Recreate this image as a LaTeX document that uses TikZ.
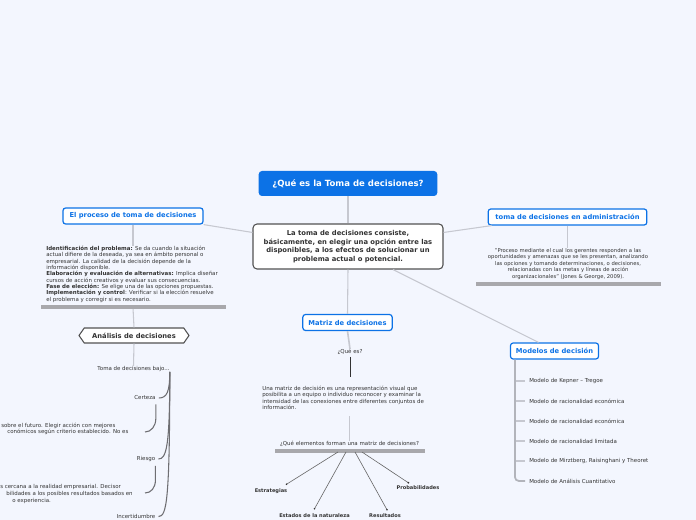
\documentclass[tikz,border=0pt]{standalone}
\usepackage{fontspec}
\setmainfont{DejaVu Sans}
\usepackage{xcolor}
\usetikzlibrary{shapes.symbols,calc}
\definecolor{bg}{HTML}{F3F6FE}
\definecolor{accent}{HTML}{0C72E6}
\definecolor{ink}{HTML}{333333}
\definecolor{wire}{HTML}{C6C8D0}
\definecolor{bar}{HTML}{A8A8AC}
\definecolor{branch}{HTML}{6E6E72}
\newcommand\fstitle{\fontsize{6.4}{8}\selectfont\bfseries}
\newcommand\fsmain{\fontsize{5.1}{6.4}\selectfont\bfseries}
\newcommand\fstopic{\fontsize{5.05}{6}\selectfont\bfseries}
\newcommand\fsnote{\fontsize{4.1}{4.75}\selectfont}
\newcommand\fscita{\fontsize{3.95}{4.85}\selectfont}
\newcommand\fslabel{\fontsize{3.8}{4.6}\selectfont\bfseries}
\newcommand\fsitem{\fontsize{4.1}{5}\selectfont}
\tikzset{
  topic/.style={draw=accent, line width=0.9pt, fill=white, rounded corners=2pt,
    text=accent, font=\fstopic, inner sep=0pt, minimum height=12pt},
  note/.style={text=ink, font=\fsnote, inner sep=0pt},
  item/.style={text=ink, font=\fsitem, inner sep=0pt, anchor=west},
  wire/.style={draw=wire, line width=0.8pt},
  branchline/.style={draw=branch, line width=0.8pt},
  spoke/.style={draw=ink!75, line width=0.45pt},
  barline/.style={draw=bar, line width=2.3pt},
}
\begin{document}
\begin{tikzpicture}[x=0.75pt, y=-0.75pt]
  \fill[bg] (0,0) rectangle (696,520);
  \clip (0,0) rectangle (696,520);

  % central topic
  \node[fill=accent, rounded corners=2.5pt, text=white, font=\fstitle,
        minimum width=134pt, minimum height=18.75pt, inner sep=0pt]
        (title) at (348,183.5) {¿Qué es la Toma de decisiones?};
  \node[draw=ink!85, line width=0.8pt, fill=white, rounded corners=3pt, text=ink,
        font=\fsmain, align=center, minimum width=142.5pt, minimum height=33.75pt,
        inner sep=0pt] (central) at (348,246.5)
        {La toma de decisiones consiste,\\ básicamente, en elegir una opción entre las\\
         disponibles, a los efectos de solucionar un\\ problema actual o potencial.};
  \draw[wire] (title.south) -- (central.north);

  % main branches
  \node[topic, minimum width=105pt] (proceso) at (133,216) {El proceso de toma de decisiones};
  \node[topic, minimum width=119pt] (admin) at (567.5,217) {toma de decisiones en administración};
  \node[topic, minimum width=67pt] (matriz) at (347.5,322.5) {Matriz de decisiones};
  \node[topic, minimum width=66pt] (modelos) at (554.5,351) {Modelos de decisión};
  \draw[wire] ($(central.north west)+(0,9)$) -- (proceso.south east);
  \draw[wire] ($(central.north east)+(0,9)$) -- ($(admin.south west)+(4,0)$);
  \draw[wire] (central.south) -- (matriz.north);
  \draw[wire] ($(central.south)+(45,0)$) -- ($(modelos.north)+(-16,0)$);

  % El proceso de toma de decisiones
  \node[note, anchor=north west, align=left] (pasos) at (46,246)
    {\textbf{Identificación del problema:} Se da cuando la situación\\
     actual difiere de la deseada, ya sea en ámbito personal o\\
     empresarial. La calidad de la decisión depende de la\\
     información disponible.\\
     \textbf{Elaboración y evaluación de alternativas:} Implica diseñar\\
     cursos de acción creativos y evaluar sus consecuencias.\\
     \textbf{Fase de elección:} Se elige una de las opciones propuestas.\\
     \textbf{Implementación y control}: Verificar si la elección resuelve\\
     el problema y corregir si es necesario.};
  \draw[wire] (proceso.south) -- (proceso.south |- pasos.north);
  \node[draw=ink!85, line width=0.8pt, fill=white, text=ink, font=\fstopic,
        signal, signal to=west and east, signal pointer angle=110,
        minimum width=82.5pt, minimum height=11.25pt, inner sep=1pt]
        (analisis) at (134,335.5) {Análisis de decisiones};
  \draw[wire] (133,308) -- (analisis.north);
  \draw[barline] (41,307) -- (226,307);
  \node[note, font=\fsitem] (bajo) at (133.5,369) {Toma de decisiones bajo...};
  \draw[wire] (analisis.south) -- (bajo.north);
  \node[note, font=\fsitem] (certeza) at (145,398) {Certeza};
  \node[note, font=\fsitem] (riesgo) at (146,459) {Riesgo};
  \node[note, font=\fsitem] (incert) at (136,516.5) {Incertidumbre};
  \draw[branchline] (bajo.south east) .. controls +(0,20) and +(8,0) .. ($(certeza.east)+(3,0)$);
  \draw[branchline] (bajo.south east) .. controls +(0,75) and +(8,0) .. ($(riesgo.east)+(3,0)$);
  \draw[branchline] (bajo.south east) .. controls +(0,130) and +(8,0) .. ($(incert.east)+(3,0)$);
  \node[note, anchor=west] (cert1) at (1,426) {sobre el futuro. Elegir acción con mejores};
  \node[note, anchor=west] (cert2) at (7,432) {conómicos según criterio establecido. No es};
  \node[note, anchor=west] (ries1) at (0,487) {s cercana a la realidad empresarial. Decisor};
  \node[note, anchor=west] (ries2) at (6,494) {bilidades a los posibles resultados basados en};
  \node[note, anchor=west] (ries3) at (12,501) {o experiencia.};
  \coordinate (certtip) at (145,432);
  \coordinate (riestip) at (145,493);
  \draw[branchline] ($(certeza.south east)+(0,4)$) -- +(0,14) .. controls +(0,8) and +(6,0) .. (certtip);
  \draw[branchline] ($(riesgo.south east)+(0,4)$) -- +(0,14) .. controls +(0,8) and +(6,0) .. (riestip);

  % toma de decisiones en administracion
  \node[note, font=\fscita, align=center, anchor=north] (cita) at (568,248)
    {"Proceso mediante el cual los gerentes responden a las\\
     oportunidades y amenazas que se les presentan, analizando\\
     las opciones y tomando determinaciones, o decisiones,\\
     relacionadas con las metas y líneas de acción\\
     organizacionales" (Jones \& George, 2009).};
  \draw[wire] (admin.south) -- (admin.south |- cita.north);
  \draw[barline] (476,284) -- (661,284);

  % Matriz de decisiones
  \node[note, font=\fsitem] (quees) at (350,352) {¿Qué es?};
  \draw[wire, line width=1.2pt] (matriz.south) -- (quees.north);
  \coordinate (qtip) at (350,377);
  \draw[draw=ink, line width=0.55pt] ($(quees.south)+(0,2)$) -- (qtip);
  \node[note, anchor=north west, align=left] (defin) at (262,386)
    {Una matriz de decisión es una representación visual que\\
     posibilita a un equipo o individuo reconocer y examinar la\\
     intensidad de las conexiones entre diferentes conjuntos de\\
     información.};
  \node[note] (elementos) at (349.5,444) {¿Qué elementos forman una matriz de decisiones?};
  \draw[wire, line width=1.2pt] (349.5,416) -- (elementos.north);
  \draw[barline] (275,451) -- (425,451);
  \node[note, font=\fslabel] (estrategias) at (271,491) {Estrategias};
  \node[note, font=\fslabel] (estados) at (314.5,516) {Estados de la naturaleza};
  \node[note, font=\fslabel] (resultados) at (385,516) {Resultados};
  \node[note, font=\fslabel] (probab) at (418,488) {Probabilidades};
  \coordinate (e1) at (338,452);
  \coordinate (e2) at (346,452);
  \coordinate (e3) at (355,452);
  \coordinate (e4) at (362,452);
  \draw[spoke] (e1) -- ($(estrategias.north east)+(-1,-4)$) node[circle, fill=ink, inner sep=0.5pt] {};
  \draw[spoke] (e2) -- ($(estados.north)+(0,-5)$) node[circle, fill=ink, inner sep=0.5pt] {};
  \draw[spoke] (e3) -- ($(resultados.north)+(2,-4)$) node[circle, fill=ink, inner sep=0.5pt] {};
  \draw[spoke] (e4) -- ($(probab.north west)+(12,-3)$) node[circle, fill=ink, inner sep=0.5pt] {};

  % Modelos de decision
  \foreach \label [count=\i] in {Modelo de Kepner – Tregoe, Modelo de racionalidad económica,
      Modelo de racionalidad económica, Modelo de racionalidad limitada,
      {Modelo de Mirztberg, Raisinghani y Theoret}, Modelo de Análisis Cuantitativo}
    \node[item] (modelo\i) at (529,{361+20*\i}) {\label};
  \draw[draw=wire!90!black, line width=1.3pt, rounded corners=3pt]
    ($(modelos.south west)+(5,0)$) |- ($(modelo6.west)+(-4,0)$);
  \foreach \i in {1,...,5}
    \draw[wire, line width=1pt] (modelo\i.west -| 516,0) -- ($(modelo\i.west)+(-4,0)$);
\end{tikzpicture}
\end{document}
